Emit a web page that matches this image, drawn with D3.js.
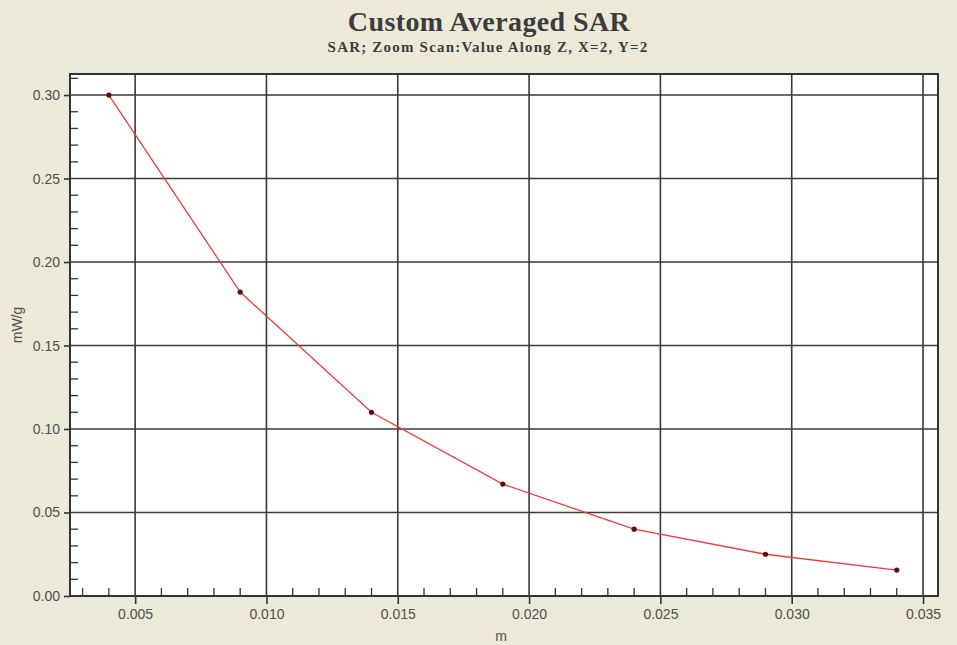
<!DOCTYPE html>
<html>
<head>
<meta charset="utf-8">
<script src="https://cdn.jsdelivr.net/npm/d3@7"></script>
<style>
body { margin: 0; background: #ece9d8; }
.tick text { font-family: "Liberation Sans", Arial, sans-serif; font-size: 14px; fill: #505050; }
</style>
</head>
<body>
<div id="container"></div>
<script>
var W = 957, H = 645,
    margin = {top: 74, right: 19, bottom: 49, left: 70},
    w = W - margin.left - margin.right,
    h = H - margin.top - margin.bottom;

// depth along Z (m) and SAR (mW/g)
var depth = [0.004, 0.009, 0.014, 0.019, 0.024, 0.029, 0.034];
var sar = [0.300, 0.182, 0.110, 0.067, 0.040, 0.025, 0.0155];
var xTicks = [0.005, 0.010, 0.015, 0.020, 0.025, 0.030, 0.035];
var yTicks = [0.00, 0.05, 0.10, 0.15, 0.20, 0.25, 0.30];

var dataset = depth.map((d, i) => ({x: d, y: sar[i]}));

var svg = d3.select('#container').append('svg')
    .attr('width', W)
    .attr('height', H);

svg.append('rect').attr('width', W).attr('height', H).attr('fill', '#ece9d8');

var g = svg.append('g').attr('transform', `translate(${margin.left},${margin.top})`);

var xScale = d3.scaleLinear().domain([0.00252, 0.03557]).range([0, w]);
var yScale = d3.scaleLinear().domain([0, 0.3126]).range([h, 0]);

g.append('rect').attr('width', w).attr('height', h).attr('fill', '#fff');

/* grid */
g.append('g').selectAll('line').data(xTicks).enter().append('line')
    .attr('x1', d => xScale(d)).attr('x2', d => xScale(d))
    .attr('y1', 0).attr('y2', h)
    .attr('stroke', '#3a3a3a').attr('stroke-width', 1.6);
g.append('g').selectAll('line').data(yTicks).enter().append('line')
    .attr('y1', d => yScale(d)).attr('y2', d => yScale(d))
    .attr('x1', 0).attr('x2', w)
    .attr('stroke', '#3a3a3a').attr('stroke-width', 1.6);

/* minor ticks, inside */
var xMinor = d3.range(3, 36).filter(v => v % 5 != 0).map(v => v / 1000);
var yMinor = d3.range(1, 32).filter(v => v % 5 != 0).map(v => v / 100);
g.append('g').selectAll('line').data(xMinor).enter().append('line')
    .attr('x1', d => xScale(d)).attr('x2', d => xScale(d))
    .attr('y1', h).attr('y2', h - 8)
    .attr('stroke', '#333').attr('stroke-width', 1.3);
g.append('g').selectAll('line').data(yMinor).enter().append('line')
    .attr('y1', d => yScale(d)).attr('y2', d => yScale(d))
    .attr('x1', 0).attr('x2', 8)
    .attr('stroke', '#333').attr('stroke-width', 1.3);

/* axes */
var xAxis = d3.axisBottom(xScale).tickValues(xTicks).tickFormat(d3.format('.3f')).tickSize(8).tickPadding(5);
var yAxis = d3.axisLeft(yScale).tickValues(yTicks).tickFormat(d3.format('.2f')).tickSize(6).tickPadding(4);

g.append('g').attr('transform', `translate(0,${h})`).call(xAxis)
    .call(a => a.select('.domain').remove())
    .selectAll('.tick line').attr('stroke', '#333').attr('stroke-width', 1.6);
g.append('g').call(yAxis)
    .call(a => a.select('.domain').remove())
    .selectAll('.tick line').attr('stroke', '#333').attr('stroke-width', 1.6);

g.append('rect').attr('width', w).attr('height', h)
    .attr('fill', 'none').attr('stroke', '#333').attr('stroke-width', 2);

/* line */
var line = d3.line()
    .x(d => xScale(d.x))
    .y(d => yScale(d.y));

g.append('path').datum(dataset)
    .attr('d', line)
    .attr('fill', 'none')
    .attr('stroke', '#f03a3a')
    .attr('stroke-width', 1.3);

g.selectAll('.pt').data(dataset).enter().append('circle')
    .classed('pt', true)
    .attr('cx', d => xScale(d.x)).attr('cy', d => yScale(d.y))
    .attr('r', 2.6).attr('fill', '#5a1010');

/* titles */
svg.append('text').attr('x', 489).attr('y', 31)
    .attr('text-anchor', 'middle')
    .attr('font-family', '"Liberation Serif", "DejaVu Serif", serif')
    .attr('font-size', 28).attr('font-weight', 'bold').attr('fill', '#3c3c3c')
    .attr('letter-spacing', 0.4)
    .text('Custom Averaged SAR');
svg.append('text').attr('x', 488).attr('y', 52)
    .attr('text-anchor', 'middle')
    .attr('font-family', '"Liberation Serif", "DejaVu Serif", serif')
    .attr('font-size', 15).attr('font-weight', 'bold').attr('fill', '#3c3c3c')
    .attr('letter-spacing', 1.2)
    .text('SAR; Zoom Scan:Value Along Z, X=2, Y=2');

svg.append('text')
    .attr('transform', 'translate(22,325) rotate(-90)')
    .attr('text-anchor', 'middle')
    .attr('font-family', '"Liberation Sans", Arial, sans-serif')
    .attr('font-size', 14).attr('fill', '#505050')
    .text('mW/g');
svg.append('text').attr('x', 501).attr('y', 641)
    .attr('text-anchor', 'middle')
    .attr('font-family', '"Liberation Sans", Arial, sans-serif')
    .attr('font-size', 14).attr('fill', '#505050')
    .text('m');
</script>
</body>
</html>
